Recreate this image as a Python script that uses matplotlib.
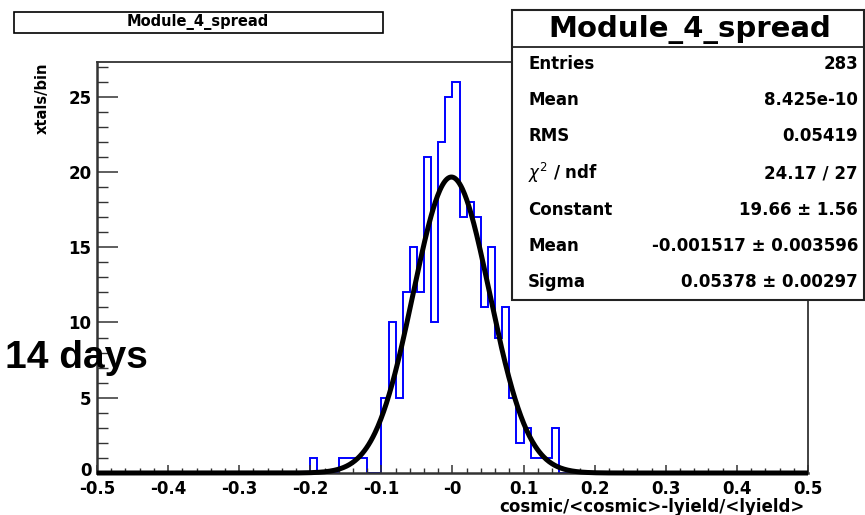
import numpy as np
import matplotlib
matplotlib.use("Agg")
import matplotlib.pyplot as plt
import matplotlib.transforms as mtransforms
from matplotlib.patches import Rectangle
from matplotlib.lines import Line2D

# ---------------- data ----------------
hist_start = -0.20          # lower edge of first listed bin
bin_width = 0.01
counts = [1, 0, 0, 0, 1, 1, 1, 1, 0, 0,
          5, 10, 5, 12, 15, 12, 21, 10, 22, 25,
          26, 17, 18, 17, 11, 15, 9, 11, 5, 2,
          3, 1, 1, 1, 3]
fit_constant = 19.66
fit_mean = -0.001517
fit_sigma = 0.05378

x_ticks = [-0.5, -0.4, -0.3, -0.2, -0.1, 0.0, 0.1, 0.2, 0.3, 0.4, 0.5]
x_tick_labels = ["-0.5", "-0.4", "-0.3", "-0.2", "-0.1", "-0", "0.1", "0.2", "0.3", "0.4", "0.5"]
y_ticks = [0, 5, 10, 15, 20, 25]
y_tick_labels = ["0", "5", "10", "15", "20", "25"]

title = "Module_4_spread"
x_title = "cosmic/<cosmic>-lyield/<lyield>"
y_title = "xtals/bin"
stat_labels = ["Entries", "Mean", "RMS", r"$\chi^{2}$ / ndf", "Constant", "Mean", "Sigma"]
stat_values = ["283", "8.425e-10", "0.05419", "24.17 / 27",
               "19.66 \u00b1 1.56", "-0.001517 \u00b1 0.003596", "0.05378 \u00b1 0.00297"]
note = "14 days"

# ---------------- figure ----------------
W, H = 865, 515
fig = plt.figure(figsize=(W / 100, H / 100), dpi=100)
fig.patch.set_facecolor("white")

def fx(px):
    return px / W

def fy(py):
    return 1 - py / H

ax_l, ax_r, ax_t, ax_b = 97, 808, 62, 473
ax = fig.add_axes([fx(ax_l), fy(ax_b), fx(ax_r - ax_l), (ax_b - ax_t) / H])

FONT = "DejaVu Sans"

edges = hist_start + bin_width * np.arange(len(counts) + 1)
ax.stairs(counts, edges, color="#0000ff", lw=1.4, baseline=0)
ax.plot([-0.5, edges[0]], [0, 0], color="#0000ff", lw=1.4)
ax.plot([edges[-1], 0.5], [0, 0], color="#0000ff", lw=1.4)

xf = np.linspace(-0.5, 0.5, 1001)
yf = fit_constant * np.exp(-0.5 * ((xf - fit_mean) / fit_sigma) ** 2)
ax.plot(xf, yf, color="black", lw=3.6, clip_on=False, zorder=4,
        solid_capstyle="butt")

ax.set_xlim(-0.5, 0.5)
ax.set_ylim(0, 27.3)

ax.set_xticks(x_ticks)
ax.set_xticklabels(x_tick_labels, fontfamily=FONT, fontweight="bold", fontsize=12)
ax.set_xticks(np.arange(-0.5, 0.5001, 0.02), minor=True)
ax.set_yticks(y_ticks)
ax.set_yticklabels(y_tick_labels, fontfamily=FONT, fontweight="bold", fontsize=12)
ax.set_yticks(np.arange(0, 27.01, 1), minor=True)

ax.tick_params(axis="x", which="major", direction="in", length=6, width=1.1,
               pad=5, color="#333333", top=False)
ax.tick_params(axis="x", which="minor", direction="in", length=3.3, width=1.0,
               color="#333333", top=False)
ax.tick_params(axis="y", which="major", direction="in", length=15, width=1.1,
               pad=4, color="#333333", right=False)
ax.tick_params(axis="y", which="minor", direction="in", length=8, width=1.0,
               color="#333333", right=False)

# raise the y "0" label slightly so it clears the "-0.5" label
zero_lab = ax.get_yticklabels()[0]
zero_lab.set_transform(zero_lab.get_transform() +
                       mtransforms.ScaledTranslation(0, 4 / 100, fig.dpi_scale_trans))

for s in ax.spines.values():
    s.set_color("#333333")
    s.set_linewidth(1.3)
ax.spines["left"].set_linewidth(1.8)
ax.spines["bottom"].set_linewidth(1.8)

# axis titles
fig.text(fx(805), fy(507), x_title, ha="right", va="center",
         fontfamily=FONT, fontweight="bold", fontsize=12)
fig.text(fx(42), fy(62), y_title, ha="center", va="top", rotation=90,
         fontfamily=FONT, fontweight="bold", fontsize=10.5)

# title box
fig.patches.append(Rectangle((fx(14), fy(33)), fx(383 - 14), (33 - 12) / H,
                             transform=fig.transFigure, facecolor="white",
                             edgecolor="black", lw=1.2, zorder=5))
fig.text(fx(198), fy(22), title, ha="center", va="center",
         fontfamily=FONT, fontweight="bold", fontsize=10.5, zorder=6)

# stats box
fig.patches.append(Rectangle((fx(512), fy(300)), fx(864 - 512), (300 - 10) / H,
                             transform=fig.transFigure, facecolor="white",
                             edgecolor="#222222", lw=1.5, zorder=5))
fig.add_artist(Line2D([fx(512), fx(864)], [fy(47), fy(47)],
                      transform=fig.transFigure, color="#222222", lw=1.3, zorder=6))
fig.text(fx(690), fy(30), title, ha="center", va="center",
         fontfamily=FONT, fontweight="bold", fontsize=21, zorder=6)
row_y = [64, 100, 136, 173, 210, 246, 282]
for lab, val, yy in zip(stat_labels, stat_values, row_y):
    fig.text(fx(528), fy(yy), lab, ha="left", va="center",
             fontfamily=FONT, fontweight="bold", fontsize=12, zorder=6)
    fig.text(fx(858), fy(yy), val, ha="right", va="center",
             fontfamily=FONT, fontweight="bold", fontsize=12, zorder=6)

# note
fig.text(fx(5), fy(358), note, ha="left", va="center",
         fontfamily=["Liberation Sans", "DejaVu Sans"], fontweight="bold",
         fontsize=28, zorder=7)

fig.savefig("out.png", dpi=100, facecolor="white")
